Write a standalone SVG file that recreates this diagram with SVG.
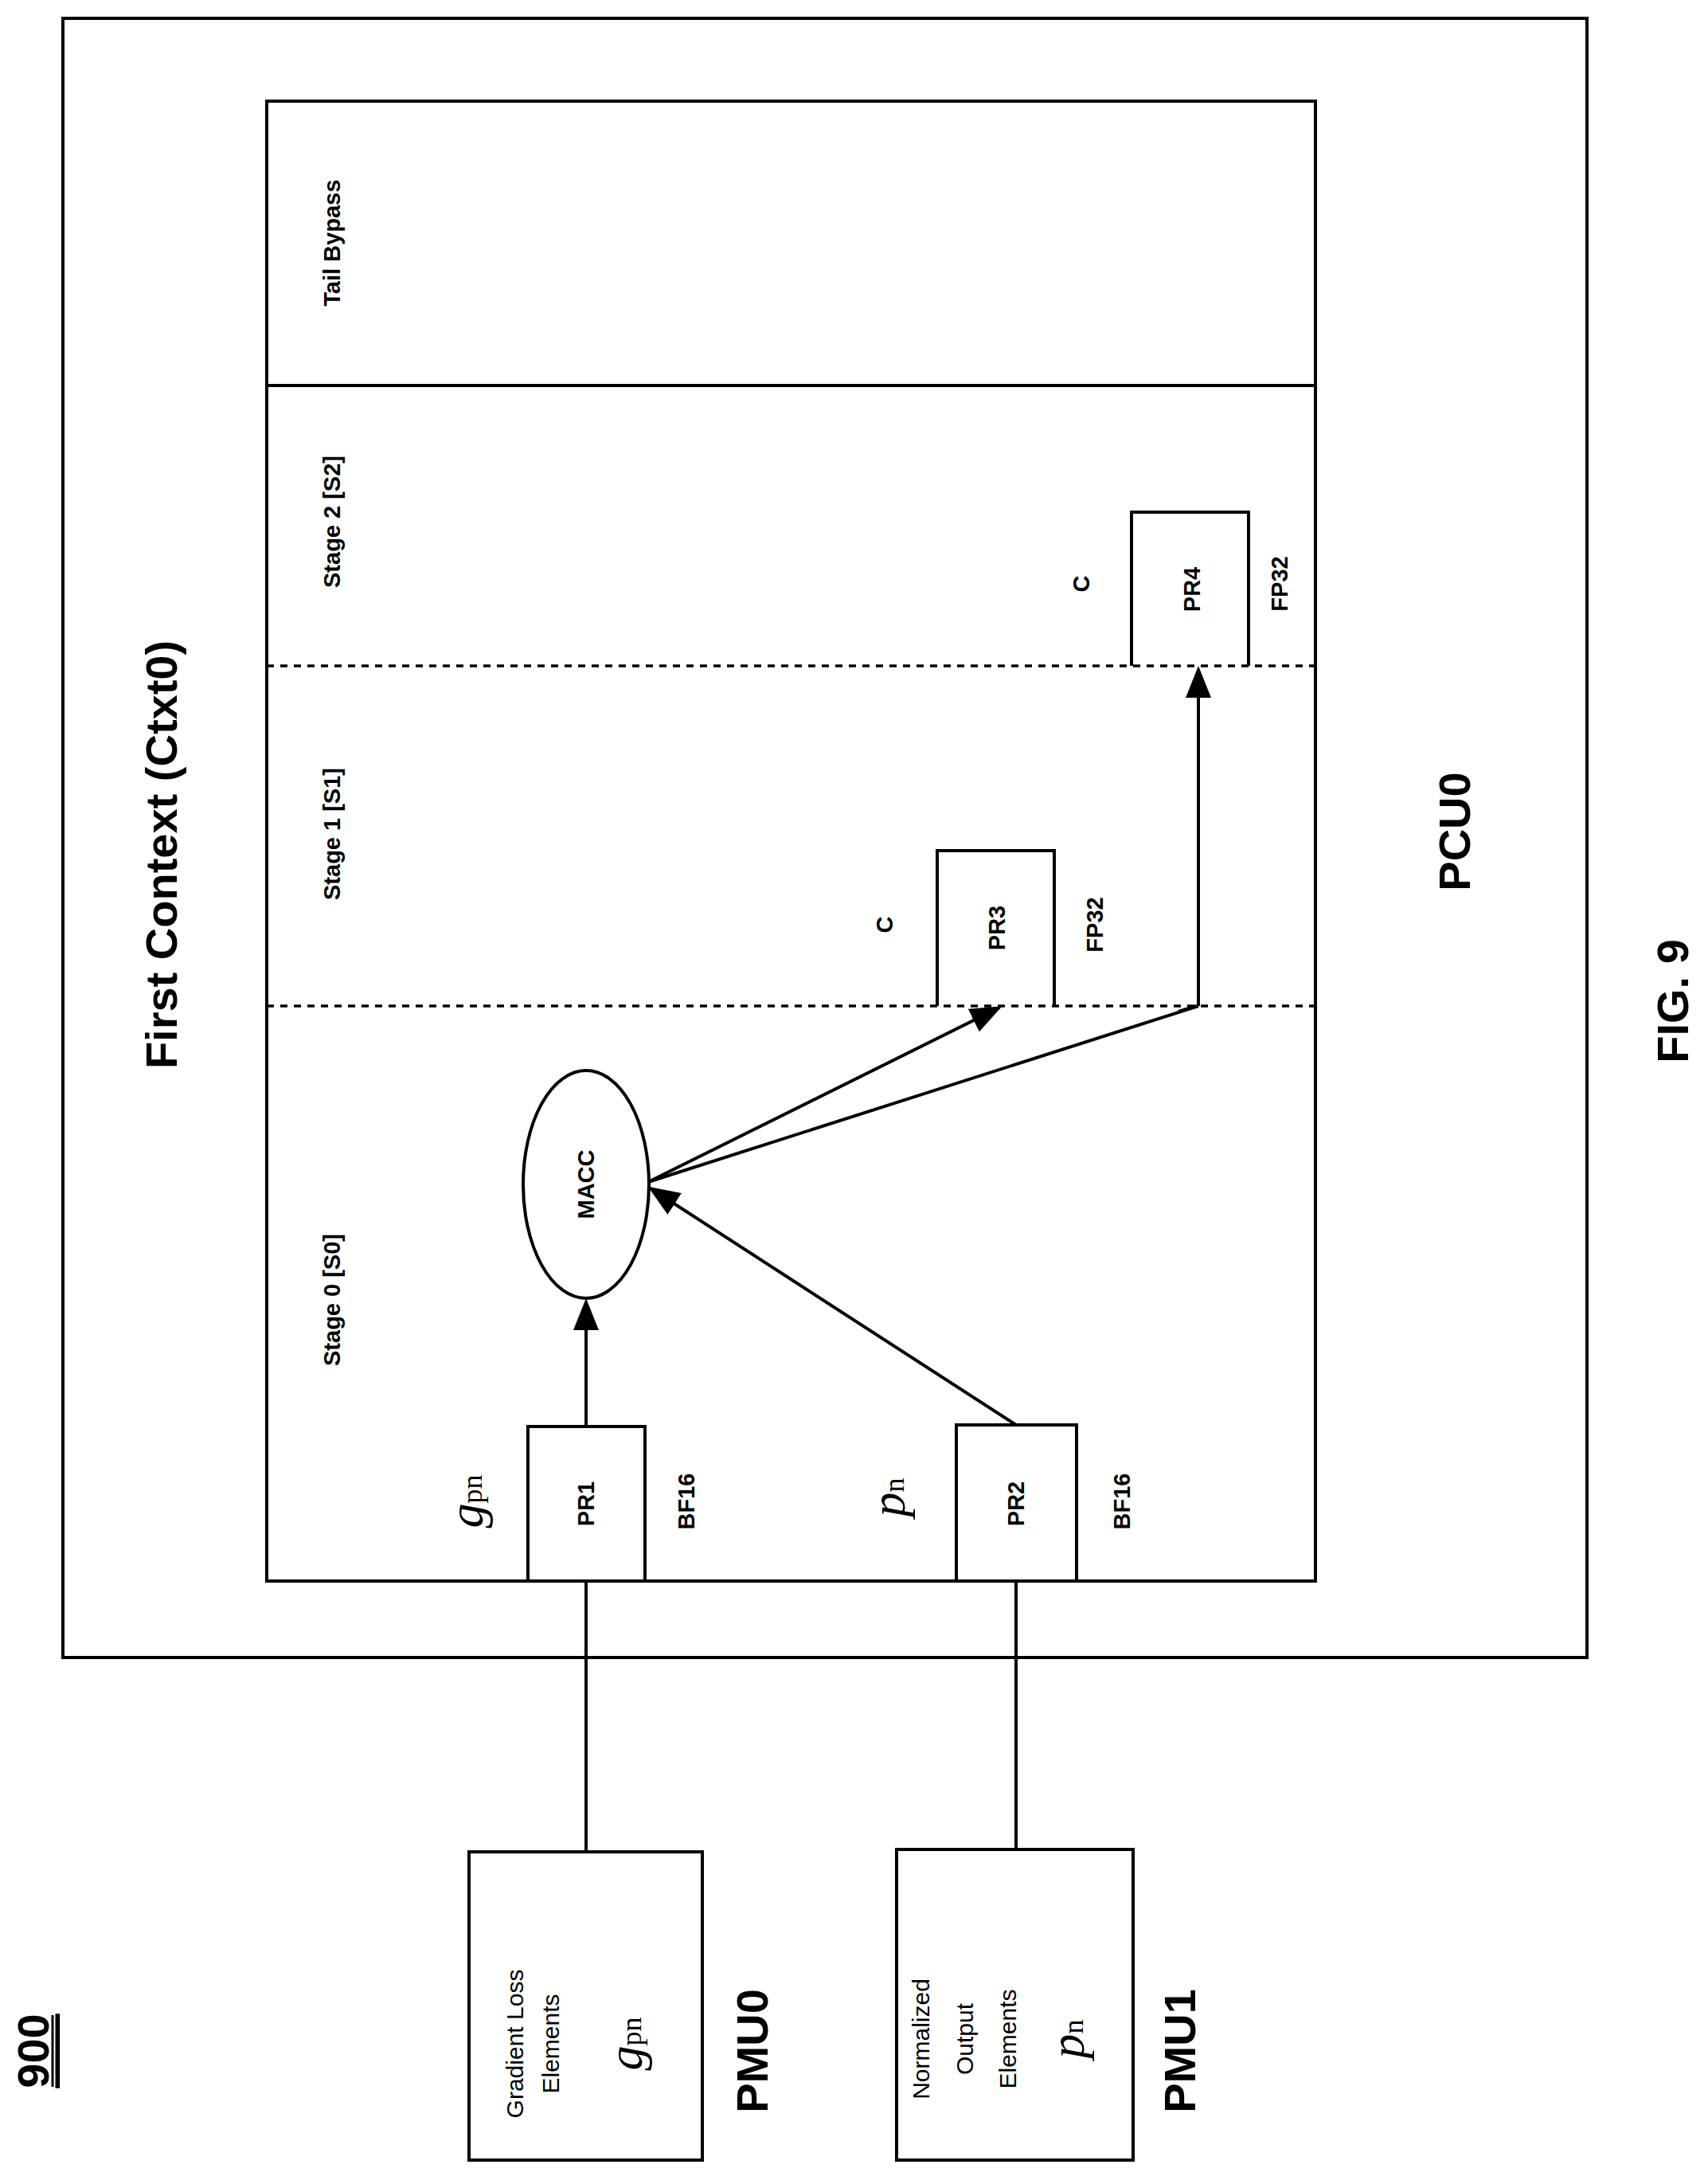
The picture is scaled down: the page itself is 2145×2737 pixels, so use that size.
<svg xmlns="http://www.w3.org/2000/svg" width="2145" height="2737" viewBox="0 0 2145 2737">
<style>
.b{fill:none;stroke:#000;stroke-width:4}
.w{fill:#fff;stroke:#000;stroke-width:4}
.d{fill:none;stroke:#000;stroke-width:3.5;stroke-dasharray:9,8}
.c{fill:none;stroke:#000;stroke-width:4}
text{font-family:"Liberation Sans",Arial,sans-serif;fill:#000;text-anchor:middle;dominant-baseline:central}
.s{font-size:30px}
.m{font-size:29px;font-weight:bold}
.L{font-size:56px;font-weight:bold}
.g{font-family:"Liberation Serif","Times New Roman",serif;font-style:italic;font-size:62px}
.sub{font-family:"Liberation Serif","Times New Roman",serif;font-size:36px;font-style:normal}
</style>
<defs>
<marker id="ah" markerWidth="10" markerHeight="8" refX="9" refY="4" orient="auto" markerUnits="strokeWidth"><path d="M0,0 L10,4 L0,8 z" fill="#000"/></marker>
</defs>
<rect width="2145" height="2737" fill="#fff"/>
<g id="pcu0">
<rect class="b" x="79" y="23" width="1914" height="2058"/>
<text class="L" transform="translate(1826,1044) rotate(-90)" font-size="60">PCU0</text>
</g>
<g id="ctxt0">
<rect class="b" x="335" y="127" width="1317" height="1858"/>
<line class="b" x1="335" y1="484" x2="1652" y2="484"/>
<line class="d" x1="335" y1="836" x2="1652" y2="836"/>
<line class="d" x1="335" y1="1263" x2="1652" y2="1263"/>
<text class="L" transform="translate(202,1073) rotate(-90)">First Context (Ctxt0)</text>
<text class="m" transform="translate(417,305) rotate(-90)">Tail Bypass</text>
<text class="m" transform="translate(417,655) rotate(-90)">Stage 2 [S2]</text>
<text class="m" transform="translate(417,1047) rotate(-90)">Stage 1 [S1]</text>
<text class="m" transform="translate(417,1632) rotate(-90)">Stage 0 [S0]</text>
</g>
<g id="pr1">
<rect class="w" x="663" y="1791" width="147" height="194"/>
<text class="m" transform="translate(736,1888) rotate(-90)">PR1</text>
<text class="m" transform="translate(862,1885) rotate(-90)">BF16</text>
<text class="g" transform="translate(585,1885) rotate(-90)">g<tspan class="sub" dy="8">pn</tspan></text>
</g>
<g id="pr2">
<rect class="w" x="1201" y="1789" width="151" height="196"/>
<text class="m" transform="translate(1276,1888) rotate(-90)">PR2</text>
<text class="m" transform="translate(1409,1885) rotate(-90)">BF16</text>
<text class="g" transform="translate(1115,1880) rotate(-90)">p<tspan class="sub" dy="8">n</tspan></text>
</g>
<g id="pr3">
<path class="b" d="M1177,1263 V1068 H1324 V1263"/>
<text class="m" transform="translate(1252,1165) rotate(-90)">PR3</text>
<text class="m" transform="translate(1375,1161) rotate(-90)">FP32</text>
<text class="m" transform="translate(1111,1161) rotate(-90)">C</text>
</g>
<g id="pr4">
<path class="b" d="M1421,836 V643 H1568 V836"/>
<text class="m" transform="translate(1497,740) rotate(-90)">PR4</text>
<text class="m" transform="translate(1607,733) rotate(-90)">FP32</text>
<text class="m" transform="translate(1358,733) rotate(-90)">C</text>
</g>
<g id="macc">
<ellipse class="w" cx="736" cy="1487" rx="79" ry="143"/>
<text class="m" transform="translate(736,1487) rotate(-90)">MACC</text>
</g>
<g id="pmu0">
<rect class="w" x="589" y="2325" width="293" height="387"/>
<text class="s" transform="translate(646,2566) rotate(-90)">Gradient Loss</text>
<text class="s" transform="translate(691,2566) rotate(-90)">Elements</text>
<text class="g" transform="translate(785,2566) rotate(-90)">g<tspan class="sub" dy="8">pn</tspan></text>
<text class="L" transform="translate(944,2575) rotate(-90)">PMU0</text>
</g>
<g id="pmu1">
<rect class="w" x="1126" y="2322" width="297" height="390"/>
<text class="s" transform="translate(1156,2560) rotate(-90)">Normalized</text>
<text class="s" transform="translate(1211,2560) rotate(-90)">Output</text>
<text class="s" transform="translate(1265,2560) rotate(-90)">Elements</text>
<text class="g" transform="translate(1340,2560) rotate(-90)">p<tspan class="sub" dy="8">n</tspan></text>
<text class="L" transform="translate(1481,2575) rotate(-90)">PMU1</text>
</g>
<g id="labels">
<text class="L" transform="translate(2100,1257) rotate(-90)">FIG. 9</text>
<text class="L" font-size="44" text-decoration="underline" transform="translate(41,2575) rotate(-90)">900</text>
<line x1="66" y1="2530" x2="66" y2="2620" stroke="#000" stroke-width="3"/>
</g>
<g id="connectors">
<line class="c" x1="736" y1="1985" x2="736" y2="2325"/>
<line class="c" x1="1276" y1="1985" x2="1276" y2="2322"/>
<line class="c" x1="736" y1="1791" x2="736" y2="1634" marker-end="url(#ah)"/>
<line class="c" x1="1276" y1="1789" x2="817" y2="1492" marker-end="url(#ah)"/>
<line class="c" x1="814" y1="1484" x2="1255" y2="1265" marker-end="url(#ah)"/>
<polyline class="c" points="814,1484 1505,1263"/>
<polyline class="c" points="1480,1270 1503,1263"/>
<line class="c" x1="1505" y1="1263" x2="1505" y2="840" marker-end="url(#ah)"/>
</g>
</svg>
